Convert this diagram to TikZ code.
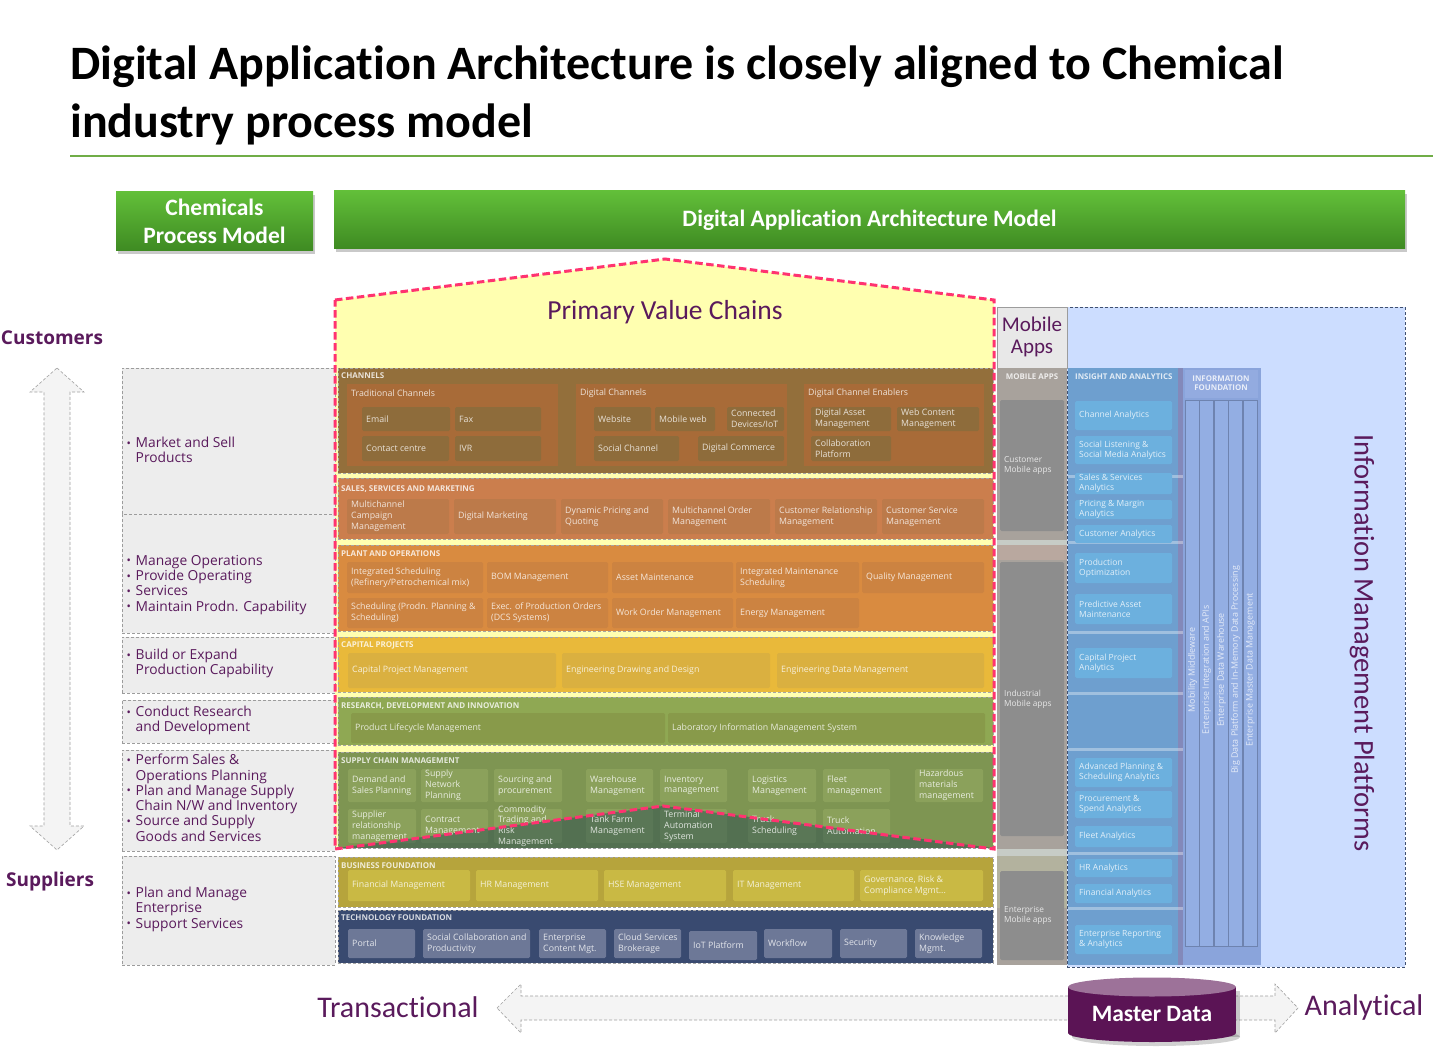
\documentclass[tikz,border=0pt]{standalone}
\usepackage{fontspec}
\setmainfont{Carlito}[Ligatures=NoCommon]
\newfontfamily\osans{Open Sans}
\usetikzlibrary{shadows}

\definecolor{plum}{HTML}{5A1A5C}
\definecolor{rulegreen}{HTML}{70AD47}
\definecolor{hdtop}{HTML}{62BF39}
\definecolor{hdbot}{HTML}{3E8A22}
\definecolor{vcfill}{HTML}{FFFFB0}
\definecolor{vcedge}{HTML}{FF3370}
\definecolor{lgray}{HTML}{EDEDED}
\definecolor{lgedge}{HTML}{9C9C9C}
\definecolor{chbg}{HTML}{936F3B}
\definecolor{chgrp}{HTML}{A86B38}
\definecolor{chbox}{HTML}{8E6C3B}
\definecolor{smbg}{HTML}{CB7E4D}
\definecolor{smbox}{HTML}{BC7A4A}
\definecolor{pobg}{HTML}{D98B40}
\definecolor{pobox}{HTML}{CC8341}
\definecolor{cpbg}{HTML}{E9B93A}
\definecolor{cpbox}{HTML}{DAB040}
\definecolor{rdbg}{HTML}{8FA853}
\definecolor{rdbox}{HTML}{889A4A}
\definecolor{scbg}{HTML}{7E9552}
\definecolor{scbox}{HTML}{8BA15B}
\definecolor{scdark}{HTML}{1F4550}
\definecolor{bfbg}{HTML}{B6A43C}
\definecolor{bfbox}{HTML}{C9B944}
\definecolor{tfbg}{HTML}{394A70}
\definecolor{tfbox}{HTML}{6D7897}
\definecolor{mobhead}{HTML}{E8E8E8}
\definecolor{mobbg}{HTML}{A8A29C}
\definecolor{mobsep}{HTML}{C7CCC6}
\definecolor{mobtint}{HTML}{B9A89F}
\definecolor{mobolive}{HTML}{B3B29E}
\definecolor{mobbox}{HTML}{8D8D8D}
\definecolor{impfill}{HTML}{CCDDFF}
\definecolor{impedge}{HTML}{3F5070}
\definecolor{iabg}{HTML}{6E9FCF}
\definecolor{iabox}{HTML}{6CB0DE}
\definecolor{iagap}{HTML}{8389BA}
\definecolor{ifbg}{HTML}{8AA4DB}
\definecolor{ifhead}{HTML}{93ABE0}
\definecolor{ifstrip}{HTML}{93AEE3}
\definecolor{arrfill}{HTML}{F4F4F4}
\definecolor{arredge}{HTML}{A0A0A0}
\definecolor{mdbody}{HTML}{5B1455}
\definecolor{mdtop}{HTML}{9D7299}

\tikzset{
  pane/.style={anchor=north west, inner sep=0pt, outer sep=0pt},
  hdr/.style={pane, top color=hdtop, bottom color=hdbot, text=white, align=center,
    font=\bfseries\fontsize{23.5}{28}\selectfont,
    drop shadow={shadow xshift=1.5pt, shadow yshift=-3pt, opacity=0.35, fill=black!60}},
  lbox/.style={pane, fill=lgray, draw=lgedge, densely dashed, line width=0.6pt},
  ltxt/.style={anchor=north west, inner sep=0pt, text=plum, align=left,
    font=\osans\fontsize{13.8}{15.3}\selectfont},
  layer/.style={pane, draw=black!35, densely dashed, line width=0.4pt},
  lyrlbl/.style={anchor=west, inner sep=0pt, text=white, text opacity=0.8,
    font=\osans\bfseries\fontsize{8}{8}\selectfont},
  grp/.style={pane, fill=chgrp},
  grplbl/.style={anchor=west, inner sep=0pt, text=white, text opacity=0.8,
    font=\osans\fontsize{8.8}{9}\selectfont},
  appbox/.style={pane, rounded corners=1.5pt},
  apptxt/.style={anchor=west, inner sep=0pt, text=white, text opacity=0.8, align=left,
    font=\osans\fontsize{8.8}{10.8}\selectfont},
  coltag/.style={inner sep=0pt, text=white, text opacity=0.8, align=center,
    font=\osans\bfseries\fontsize{7.9}{8.5}\selectfont},
  striptxt/.style={inner sep=0pt, text=white, text opacity=0.75,
    font=\osans\fontsize{8.9}{9}\selectfont},
  bigword/.style={inner sep=0pt, text=plum, font=\fontsize{30}{32}\selectfont},
  sidelbl/.style={inner sep=0pt, text=plum, font=\osans\bfseries\fontsize{19}{22}\selectfont},
  vcline/.style={draw=vcedge, line width=3pt, dash pattern=on 7.5pt off 3.5pt},
  fatarrow/.style={fill=arrfill, draw=arredge, densely dashed, line width=0.6pt}
}

% box from (x1,y1) to (x2,y2)
\newcommand\abxb[6]{%
  \pgfmathsetmacro\abxw{#5-#3}%
  \pgfmathsetmacro\abxh{#6-#4}%
  \node[appbox,#1,minimum width=\abxw pt,minimum height=\abxh pt] (#2) at (#3,#4) {};}
% its text, left-aligned and centred vertically
\newcommand\abxt[2]{\node[apptxt,xshift=4pt] (#1-t) at (#1.west) {#2};}
\newcommand\abx[7]{\abxb{#1}{#2}{#3}{#4}{#5}{#6}\abxt{#2}{#7}}
\newcommand\bul{\makebox[8.5pt][l]{\hspace*{-0.5pt}\raisebox{0.4pt}{\fontsize{11.5}{8}\selectfont\textbullet}}}
\newcommand\hang{\hspace*{8.5pt}}

\begin{document}
\begin{tikzpicture}[x=1pt,y=-1pt]
\useasboundingbox (0,0) rectangle (1433,1051);
\fill[white] (0,0) rectangle (1433,1051);

% ---------- title ----------
\node[anchor=base west, inner sep=0pt, font=\bfseries\fontsize{48}{56}\selectfont] (title1) at (70,80)
  {Digital Application Architecture is closely aligned to Chemical};
\node[anchor=base west, inner sep=0pt, font=\bfseries\fontsize{48}{56}\selectfont] (title2) at (70,138)
  {industry process model};
\draw[rulegreen, line width=1.5pt] (70,156) -- (1433,156);

% ---------- headers ----------
\node[hdr, minimum width=197pt, minimum height=59pt] (hdrcpm) at (116,192) {Chemicals\\Process Model};
\node[hdr, minimum width=1071pt, minimum height=58pt] (hdrdaa) at (334,191) {Digital Application Architecture Model};

% ---------- value chain area ----------
\fill[vcfill] (335,300) -- (665,259) -- (994,300) -- (994,849) -- (663,806) -- (335,849) -- cycle;
\node[inner sep=0pt, text=plum, font=\fontsize{27.5}{30}\selectfont] (pvc) at (665,312) {Primary Value Chains};

% ---------- process model column ----------
\node[lbox, minimum width=213pt, minimum height=146pt] (pm1) at (122,368) {};
\node[lbox, minimum width=213pt, minimum height=119pt] (pm2) at (122,514) {};
\node[lbox, minimum width=213pt, minimum height=56pt] (pm3) at (122,637) {};
\node[lbox, minimum width=213pt, minimum height=43pt] (pm4) at (122,700) {};
\node[lbox, minimum width=213pt, minimum height=101pt] (pm5) at (122,750) {};
\node[lbox, minimum width=213pt, minimum height=109pt] (pm6) at (122,856) {};
\node[ltxt] (pm1t) at (127,437) {\bul Market and Sell\\\hang Products};
\node[ltxt] (pm2t) at (127,555) {\bul Manage Operations\\\bul Provide Operating\\\bul Services\\\bul Maintain Prodn. Capability};
\node[ltxt] (pm3t) at (127,649) {\bul Build or Expand\\\hang Production Capability};
\node[ltxt] (pm4t) at (127,706) {\bul Conduct Research\\\hang and Development};
\node[ltxt] (pm5t) at (127,754) {\bul Perform Sales \&\\\hang Operations Planning\\\bul Plan and Manage Supply\\\hang Chain N/W and Inventory\\\bul Source and Supply\\\hang Goods and Services};
\node[ltxt] (pm6t) at (127,887) {\bul Plan and Manage\\\hang Enterprise\\\bul Support Services};

% customers / suppliers axis
\path[fatarrow] (57,368) -- (84,392) -- (70,392) -- (70,826) -- (84,826) -- (57,850)
  -- (30,826) -- (44,826) -- (44,392) -- (30,392) -- cycle;
\node[sidelbl] (cust) at (52,338) {Customers};
\node[sidelbl] (supp) at (50,882) {Suppliers};

% ---------- CHANNELS ----------
\node[layer, fill=chbg, minimum width=655pt, minimum height=105pt] (Lch) at (338,368) {};
\node[lyrlbl] (Lcht) at (341,376) {CHANNELS};
\node[grp, minimum width=211pt, minimum height=82pt] (gtrad) at (347,384) {};
\node[grp, minimum width=211pt, minimum height=82pt] (gdig) at (576,384) {};
\node[grp, minimum width=180pt, minimum height=82pt] (gena) at (804,384) {};
\node[grplbl] (gtradt) at (351,393) {Traditional Channels};
\node[grplbl] (gdigt) at (580,393) {Digital Channels};
\node[grplbl] (genat) at (808,393) {Digital Channel Enablers};
\abx{fill=chbox}{email}{362}{407}{450}{431}{Email}
\abx{fill=chbox}{fax}{455}{407}{541}{431}{Fax}
\abx{fill=chbox}{cntc}{362}{436}{449}{461}{Contact centre}
\abx{fill=chbox}{ivr}{455}{436}{541}{461}{IVR}
\abx{fill=chbox}{web}{594}{407}{651}{431}{Website}
\abx{fill=chbox}{mweb}{655}{407}{715}{431}{Mobile web}
\abx{fill=chbox}{iot}{727}{407}{784}{431}{Connected\\Devices/IoT}
\abx{fill=chbox}{soc}{594}{436}{679}{461}{Social Channel}
\abx{fill=chbox}{dcom}{698}{436}{784}{461}{Digital Commerce}
\abx{fill=chbox}{dam}{811}{407}{891}{431}{Digital Asset\\Management}
\abx{fill=chbox}{wcm}{897}{407}{979}{431}{Web Content\\Management}
\abx{fill=chbox}{collab}{811}{436}{891}{461}{Collaboration\\Platform}

% ---------- SALES, SERVICES AND MARKETING ----------
\node[layer, fill=smbg, minimum width=655pt, minimum height=61pt] (Lsm) at (338,478) {};
\node[lyrlbl] (Lsmt) at (341,489) {SALES, SERVICES AND MARKETING};
\abx{fill=smbox}{mcm}{347}{499}{449}{534}{Multichannel\\Campaign\\Management}
\abx{fill=smbox}{dmk}{454}{499}{556}{534}{Digital Marketing}
\abx{fill=smbox}{dpq}{561}{499}{663}{534}{Dynamic Pricing and\\Quoting}
\abx{fill=smbox}{mom}{668}{499}{770}{534}{Multichannel Order\\Management}
\abx{fill=smbox}{crm}{775}{499}{877}{534}{Customer Relationship\\Management}
\abx{fill=smbox}{csm}{882}{499}{984}{534}{Customer Service\\Management}

% ---------- PLANT AND OPERATIONS ----------
\node[layer, fill=pobg, minimum width=655pt, minimum height=86pt] (Lpo) at (338,545) {};
\node[lyrlbl] (Lpot) at (341,554) {PLANT AND OPERATIONS};
\abx{fill=pobox}{isch}{347}{562}{483}{593}{Integrated Scheduling\\(Refinery/Petrochemical mix)}
\abx{fill=pobox}{bom}{487}{562}{608}{593}{BOM Management}
\abx{fill=pobox}{asm}{612}{562}{733}{593}{Asset Maintenance}
\abx{fill=pobox}{ims}{736}{562}{859}{593}{Integrated Maintenance\\Scheduling}
\abx{fill=pobox}{qm}{862}{562}{984}{593}{Quality Management}
\abx{fill=pobox}{sch}{347}{598}{483}{628}{Scheduling (Prodn. Planning \&\\Scheduling)}
\abx{fill=pobox}{epo}{487}{598}{608}{628}{Exec. of Production  Orders\\(DCS Systems)}
\abx{fill=pobox}{wom}{612}{598}{733}{628}{Work Order Management}
\abx{fill=pobox}{enm}{736}{598}{859}{628}{Energy Management}

% ---------- CAPITAL PROJECTS ----------
\node[layer, fill=cpbg, minimum width=655pt, minimum height=55pt] (Lcp) at (338,637) {};
\node[lyrlbl] (Lcpt) at (341,645) {CAPITAL PROJECTS};
\abx{fill=cpbox}{cpm}{348}{653}{556}{688}{Capital Project Management}
\abx{fill=cpbox}{edd}{562}{653}{770}{688}{Engineering Drawing and Design}
\abx{fill=cpbox}{edm}{777}{653}{984}{688}{Engineering Data Management}

% ---------- RESEARCH ----------
\node[layer, fill=rdbg, minimum width=655pt, minimum height=48pt] (Lrd) at (338,697) {};
\node[lyrlbl] (Lrdt) at (341,706) {RESEARCH, DEVELOPMENT AND INNOVATION};
\abx{fill=rdbox}{plm}{351}{713}{665}{743}{Product Lifecycle Management}
\abx{fill=rdbox}{lims}{668}{713}{985}{743}{Laboratory Information Management System}

% ---------- SUPPLY CHAIN ----------
\node[layer, fill=scbg, minimum width=655pt, minimum height=96pt] (Lsc) at (338,752) {};
\node[lyrlbl] (Lsct) at (341,761) {SUPPLY CHAIN MANAGEMENT};
\abxb{fill=scbox}{dsp}{348}{769}{416}{802}
\abxb{fill=scbox}{snp}{421}{769}{488}{802}
\abxb{fill=scbox}{sap}{494}{769}{562}{802}
\abxb{fill=scbox}{whm}{586}{769}{653}{802}
\abxb{fill=scbox}{inv}{660}{769}{727}{802}
\abxb{fill=scbox}{lgm}{748}{769}{816}{802}
\abxb{fill=scbox}{flm}{823}{769}{890}{802}
\abxb{fill=scbox}{hzm}{915}{769}{983}{802}
\abxb{fill=scbox}{srm}{348}{809}{416}{843}
\abxb{fill=scbox}{ctm}{421}{809}{488}{843}
\abxb{fill=scbox}{ctr}{494}{809}{562}{843}
\abxb{fill=scbox}{tfm}{586}{809}{653}{843}
\abxb{fill=scbox}{tas}{660}{809}{727}{843}
\abxb{fill=scbox}{trs}{748}{809}{816}{843}
\abxb{fill=scbox}{tra}{823}{809}{890}{843}
% part of the supply chain that lies outside the primary value chains
\fill[scdark, opacity=0.45] (338,848) -- (663,806) -- (993,848) -- cycle;
\abxt{dsp}{Demand and\\Sales Planning}
\abxt{snp}{Supply\\Network\\Planning}
\abxt{sap}{Sourcing and\\procurement}
\abxt{whm}{Warehouse\\Management}
\abxt{inv}{Inventory\\management}
\abxt{lgm}{Logistics\\Management}
\abxt{flm}{Fleet\\management}
\abxt{hzm}{Hazardous\\materials\\management}
\abxt{srm}{Supplier\\relationship\\management}
\abxt{ctm}{Contract\\Management}
\abxt{ctr}{Commodity\\Trading and\\Risk\\Management}
\abxt{tfm}{Tank Farm\\Management}
\abxt{tas}{Terminal\\Automation\\System}
\abxt{trs}{Truck\\Scheduling}
\abxt{tra}{Truck\\Automation}

% ---------- BUSINESS FOUNDATION ----------
\node[layer, fill=bfbg, minimum width=655pt, minimum height=50pt] (Lbf) at (338,857) {};
\node[lyrlbl] (Lbft) at (341,866) {BUSINESS FOUNDATION};
\abx{fill=bfbox}{fin}{348}{870}{470}{901}{Financial Management}
\abx{fill=bfbox}{hrm}{476}{870}{598}{901}{HR Management}
\abx{fill=bfbox}{hse}{604}{870}{726}{901}{HSE Management}
\abx{fill=bfbox}{itm}{733}{870}{854}{901}{IT Management}
\abx{fill=bfbox}{grc}{860}{870}{983}{901}{Governance, Risk \&\\Compliance Mgmt...}

% ---------- TECHNOLOGY FOUNDATION ----------
\node[layer, fill=tfbg, minimum width=655pt, minimum height=53pt] (Ltf) at (338,910) {};
\node[lyrlbl] (Ltft) at (341,918) {TECHNOLOGY FOUNDATION};
\abx{fill=tfbox}{prt}{348}{929}{415}{958}{Portal}
\abx{fill=tfbox}{scp}{423}{929}{530}{958}{Social Collaboration  and\\Productivity}
\abx{fill=tfbox}{ecm}{539}{929}{606}{958}{Enterprise\\Content Mgt.}
\abx{fill=tfbox}{csb}{614}{929}{681}{958}{Cloud Services\\Brokerage}
\abx{fill=tfbox}{iotp}{689}{931}{757}{960}{IoT Platform}
\abx{fill=tfbox}{wfl}{764}{929}{832}{958}{Workflow}
\abx{fill=tfbox}{sec}{840}{929}{907}{958}{Security}
\abx{fill=tfbox}{kmg}{915}{929}{982}{958}{Knowledge\\Mgmt.}

% primary value chain outline
\draw[vcline] (335,300) -- (665,259) -- (994,300) -- (994,849) -- (663,806) -- (335,849) -- cycle;

% ---------- information management platforms ----------
\node[pane, fill=impfill, draw=impedge, densely dashed, line width=0.5pt,
      minimum width=338pt, minimum height=660pt] (impbg) at (1067,307) {};
\node[bigword, font=\fontsize{28.5}{30}\selectfont, rotate=-90] (impt) at (1362,643) {Information Management Platforms};

% ---------- mobile apps ----------
\node[pane, fill=mobhead, draw=lgedge, line width=0.4pt, minimum width=70pt, minimum height=61pt] (mobhd) at (997,307) {};
\node[inner sep=0pt, text=plum, align=center, font=\fontsize{21}{22}\selectfont] (mobhdt) at (1032,337) {Mobile\\Apps};
\node[pane, fill=mobbg, minimum width=70pt, minimum height=597pt] (mobcol) at (997,368) {};
\node[pane, fill=mobsep, minimum width=70pt, minimum height=5pt] (mobs1) at (997,540) {};
\node[pane, fill=mobtint, minimum width=70pt, minimum height=15pt] (mobs2) at (997,545) {};
\node[pane, fill=mobsep, minimum width=70pt, minimum height=7pt] (mobs3) at (997,849) {};
\node[pane, fill=mobolive, minimum width=70pt, minimum height=52pt] (mobs4) at (997,856) {};
\node[coltag] (mobtag) at (1032,377) {MOBILE APPS};
\begin{scope}
\tikzset{apptxt/.append style={font=\osans\fontsize{8.3}{10.3}\selectfont}}
\abx{fill=mobbox}{mcust}{1000}{400}{1064}{531}{Customer\\Mobile apps}
\abx{fill=mobbox}{mind}{1000}{562}{1064}{836}{Industrial\\Mobile apps}
\abx{fill=mobbox}{ment}{1000}{871}{1064}{960}{Enterprise\\Mobile apps}
\end{scope}

% ---------- insight and analytics ----------
\node[pane, fill=iabg, minimum width=111pt, minimum height=597pt] (iacol) at (1068,368) {};
\node[pane, fill=iagap, minimum width=5pt, minimum height=597pt] (iagp) at (1178,368) {};
\foreach \k/\sy in {1/475,2/541,3/631,4/692,5/748,6/852,7/907}
  \node[pane, fill=white, opacity=0.35, minimum width=192pt, minimum height=3pt] (sep\k) at (1068,\sy) {};
\node[coltag, anchor=west] (iatag) at (1075,377) {INSIGHT AND ANALYTICS};
\begin{scope}
\tikzset{apptxt/.append style={font=\osans\fontsize{8.5}{10.3}\selectfont}}
\abx{fill=iabox}{ia1}{1075}{401}{1172}{430}{Channel Analytics}
\abx{fill=iabox}{ia2}{1075}{436}{1172}{464}{Social Listening \&\\Social Media Analytics}
\abx{fill=iabox}{ia3}{1075}{473}{1172}{494}{Sales \&  Services\\Analytics}
\abx{fill=iabox}{ia4}{1075}{500}{1172}{519}{Pricing \& Margin\\Analytics}
\abx{fill=iabox}{ia5}{1075}{525}{1172}{543}{Customer Analytics}
\abx{fill=iabox}{ia6}{1075}{553}{1172}{583}{Production\\Optimization}
\abx{fill=iabox}{ia7}{1075}{594}{1172}{624}{Predictive Asset\\Maintenance}
\abx{fill=iabox}{ia8}{1075}{648}{1172}{678}{Capital Project\\Analytics}
\abx{fill=iabox}{ia9}{1075}{758}{1172}{787}{Advanced Planning \&\\Scheduling Analytics}
\abx{fill=iabox}{ia10}{1075}{791}{1172}{818}{Procurement \&\\Spend Analytics}
\abx{fill=iabox}{ia11}{1075}{826}{1172}{847}{Fleet Analytics}
\abx{fill=iabox}{ia12}{1075}{859}{1172}{877}{HR Analytics}
\abx{fill=iabox}{ia13}{1075}{884}{1172}{903}{Financial Analytics}
\abx{fill=iabox}{ia14}{1075}{925}{1172}{954}{Enterprise Reporting\\\& Analytics}
\end{scope}

% ---------- information foundation ----------
\node[pane, fill=ifbg, minimum width=78pt, minimum height=597pt] (ifcol) at (1183,368) {};
\node[pane, fill=ifhead, minimum width=73pt, minimum height=28pt] (ifhd) at (1185,370) {};
\node[coltag] (iftag) at (1221,383) {INFORMATION\\FOUNDATION};
\foreach \k/\sx/\lab in {1/1185/Mobility Middleware,
                         2/1199/Enterprise Integration and APIs,
                         3/1214/Enterprise Data Warehouse,
                         4/1228/Big Data Platform and In-Memory Data Processing,
                         5/1243/Enterprise Master Data Management}{
  \node[pane, fill=ifstrip, draw=ifbg!80!black, line width=0.4pt,
        minimum width=14.5pt, minimum height=546pt] (ifs\k) at (\sx,400) {};
  \node[striptxt, rotate=90] (ifl\k) at (\sx+7.5,670) {\lab};
}

% ---------- transactional / analytical axis ----------
\path[fatarrow] (497,1008) -- (521,984) -- (521,996) -- (1275,996) -- (1275,984) -- (1298,1008)
  -- (1275,1033) -- (1275,1020) -- (521,1020) -- (521,1033) -- cycle;
\node[bigword] (trn) at (398,1007) {Transactional};
\node[bigword] (anl) at (1364,1007) {Analytical};

% master data store
\fill[black, opacity=0.18] (1072,991) rectangle (1240,1037);
\fill[black, opacity=0.18] (1156,1037) ellipse[x radius=84, y radius=9];
\fill[mdbody] (1068,987) rectangle (1236,1033);
\fill[mdbody] (1152,1033) ellipse[x radius=84, y radius=9];
\fill[mdtop] (1152,987) ellipse[x radius=84, y radius=9.5];
\node[inner sep=0pt, text=white, font=\bfseries\fontsize{23.5}{26}\selectfont] (mdata) at (1152,1014) {Master Data};

\end{tikzpicture}
\end{document}
